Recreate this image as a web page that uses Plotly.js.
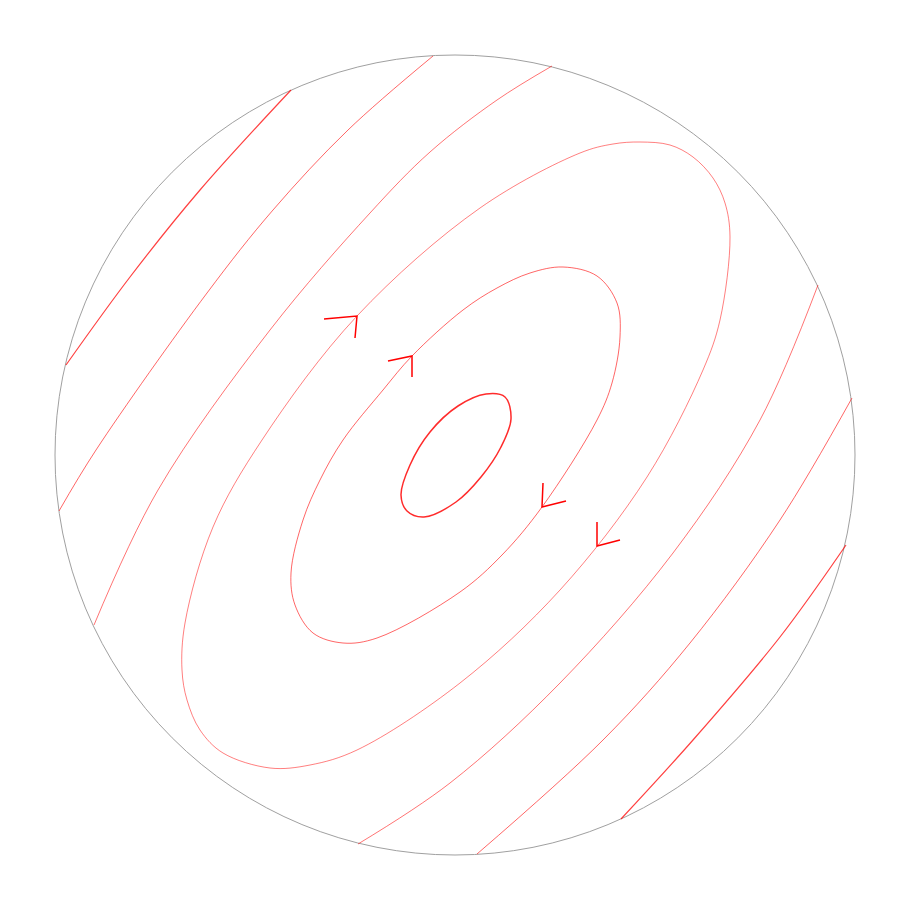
<!DOCTYPE html>
<html>
<head>
<meta charset="utf-8">
<script src="https://cdn.plot.ly/plotly-3.0.1.min.js"></script>
<style>html,body{margin:0;padding:0;background:#fff;}#chart{width:900px;height:900px;}</style>
</head>
<body>
<div id="chart"></div>
<script>
// ---- Data: orbit points (disk of radius 400, centre 0,0) ----
const orbit1X = [50, 56, 46, 26, 1, -31, -48, -54, -45, -25, 3, 31, 50];
const orbit1Y = [58, 36, 8, -22, -47, -62, -56, -40, -10, 23, 49, 61, 58];

const orbit2X = [108, 142, 162, 165, 157, 142, 87, 47, 5, -78, -112, -142, -160, -164, -152, -135, -112, -72, -43, 8, 42, 75, 108];
const orbit2Y = [188, 179, 152, 118, 72, 35, -52, -100, -137, -183, -188, -178, -150, -118, -65, -25, 15, 65, 99, 145, 167, 182, 188];

const orbit3X = [185, 215, 238, 258, 270, 275, 265, 248, 192, 105, 5, -98, -145, -185, -232, -255, -268, -273, -270, -242, -193, -98, 25, 125, 158, 185];
const orbit3Y = [313, 310, 298, 277, 252, 218, 135, 85, -22, -135, -228, -295, -310, -313, -298, -275, -245, -215, -168, -72, 15, 139, 247, 302, 311, 313];

const openAX = [-389, -325, -255, -164];
const openAY = [90, 178, 265, 365];
const openA2X = [391, 325, 238, 166];
const openA2Y = [-90, -182, -285, -364];

const openBX = [-22, -107, -182, -248, -359, -396];
const openBY = [399, 325, 245, 162, 5, -56];
const openB2X = [397, 325, 235, 148, 22];
const openB2Y = [57, -65, -188, -285, -399];

const openCX = [97, 42, -25, -85, -185, -297, -361];
const openCY = [389, 355, 303, 242, 125, -35, -170];
const openC2X = [363, 305, 218, 105, -5, -97];
const openC2Y = [170, 35, -98, -228, -328, -389];

// arrow positions on the orbits
const arrowX = [-98, -43, 87, 142];
const arrowY = [139, 99, -52, -91];

const diskRadius = 400;

// ---- Styles ----
const arrowArms = [
  [[-33, -3], [-2, -22]],
  [[-24, -5], [0, -21]],
  [[1, 24], [24, 6]],
  [[0, 24], [23, 6]]
];

function curve(x, y, color, width) {
  return {
    type: 'scatter', mode: 'lines', x: x, y: y,
    line: {color: color, width: width, shape: 'spline', smoothing: 1},
    hoverinfo: 'skip', showlegend: false
  };
}

const traces = [
  curve(openAX, openAY, 'rgba(255,0,0,0.75)', 1.2),
  curve(openA2X, openA2Y, 'rgba(255,0,0,0.75)', 1.2),
  curve(openBX, openBY, 'rgba(255,0,0,0.6)', 1),
  curve(openB2X, openB2Y, 'rgba(255,0,0,0.6)', 1),
  curve(openCX, openCY, 'rgba(255,0,0,0.55)', 1),
  curve(openC2X, openC2Y, 'rgba(255,0,0,0.55)', 1),
  curve(orbit3X, orbit3Y, 'rgba(255,0,0,0.5)', 1),
  curve(orbit2X, orbit2Y, 'rgba(255,0,0,0.6)', 1),
  curve(orbit1X, orbit1Y, 'rgba(255,20,20,0.9)', 1.5)
];

const ax = [], ay = [];
arrowX.forEach((x0, i) => {
  const y0 = arrowY[i];
  const [a, b] = arrowArms[i];
  ax.push(x0 + a[0], x0, x0 + b[0], null);
  ay.push(y0 + a[1], y0, y0 + b[1], null);
});
traces.push({
  type: 'scatter', mode: 'lines', x: ax, y: ay,
  line: {color: 'rgb(255,0,0)', width: 1.5},
  hoverinfo: 'skip', showlegend: false
});

const layout = {
  width: 900, height: 900,
  margin: {l: 0, r: 0, t: 0, b: 0},
  paper_bgcolor: '#ffffff', plot_bgcolor: '#ffffff',
  xaxis: {range: [-455, 445], visible: false, fixedrange: true},
  yaxis: {range: [-445, 455], visible: false, fixedrange: true},
  shapes: [{
    type: 'circle', xref: 'x', yref: 'y',
    x0: -diskRadius, x1: diskRadius, y0: -diskRadius, y1: diskRadius,
    line: {color: '#a0a0a0', width: 1}, layer: 'below'
  }],
  showlegend: false
};

Plotly.newPlot('chart', traces, layout, {staticPlot: true, displayModeBar: false});
</script>
</body>
</html>
